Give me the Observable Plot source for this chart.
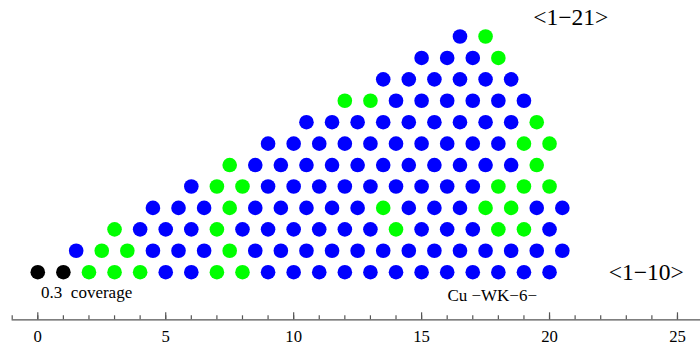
<!DOCTYPE html>
<html>
<head>
<meta charset="utf-8">
<script src="https://cdn.jsdelivr.net/npm/d3@7"></script>
<script src="https://cdn.jsdelivr.net/npm/@observablehq/plot@0.6"></script>
<style>
  html, body { margin: 0; padding: 0; background: #fff; }
</style>
</head>
<body>
<div id="chart"></div>
<script>
// Lattice rows (row index = y), explicit x positions of each dot
const rowY = [0, 1, 2, 3, 4, 5, 6, 7, 8, 9, 10, 11];
const rowX = [
  [0, 1, 2, 3, 4, 5, 6, 7, 8, 9, 10, 11, 12, 13, 14, 15, 16, 17, 18, 19, 20],
  [1.5, 2.5, 3.5, 4.5, 5.5, 6.5, 7.5, 8.5, 9.5, 10.5, 11.5, 12.5, 13.5, 14.5, 15.5, 16.5, 17.5, 18.5, 19.5, 20.5],
  [3, 4, 5, 6, 7, 8, 9, 10, 11, 12, 13, 14, 15, 16, 17, 18, 19, 20],
  [4.5, 5.5, 6.5, 7.5, 8.5, 9.5, 10.5, 11.5, 12.5, 13.5, 14.5, 15.5, 16.5, 17.5, 18.5, 19.5, 20.5],
  [6, 7, 8, 9, 10, 11, 12, 13, 14, 15, 16, 17, 18, 19, 20],
  [7.5, 8.5, 9.5, 10.5, 11.5, 12.5, 13.5, 14.5, 15.5, 16.5, 17.5, 18.5, 19.5],
  [9, 10, 11, 12, 13, 14, 15, 16, 17, 18, 19, 20],
  [10.5, 11.5, 12.5, 13.5, 14.5, 15.5, 16.5, 17.5, 18.5, 19.5],
  [12, 13, 14, 15, 16, 17, 18, 19],
  [13.5, 14.5, 15.5, 16.5, 17.5, 18.5],
  [15, 16, 17, 18],
  [16.5, 17.5]
];
// K = black, G = green, B = blue (one code per dot)
const rowKind = [
  "KKGGGBBGGBBBBBBBBBBBB",
  "BGGBBBGBBBBBBBBBBBBB",
  "GBBBGBBBBBBGBBBGGB",
  "BBBGBBBBBGBBBGGBB",
  "BGGBBBBBBBBBGGG",
  "GBBBBBBBBBBBG",
  "BBBBBBBBBBGG",
  "BBBBBBBBBG",
  "GGBBBBBB",
  "BBBBBB",
  "BBBG",
  "BG"
];
const kindColor = {K: "#000000", G: "#00ff00", B: "#0000ff"};

const majorTicks = [0, 5, 10, 15, 20, 25];
const minorTicks = [-1, 0, 1, 2, 3, 4, 5, 6, 7, 8, 9, 10, 11, 12, 13, 14, 15, 16, 17, 18, 19, 20, 21, 22, 23, 24, 25];

const bigLabelText = ["<1\u221221>", "<1\u221210>"];
const bigLabelX = [20.83, 23.78];
const bigLabelY = [11.91, 0];

const smallLabelText = ["0.3\u2002coverage", "Cu \u2212WK\u22126\u2212"];
const smallLabelX = [1.91, 17.76];
const smallLabelY = [-0.96, -1.10];

const points = rowX.flatMap((xs, i) => xs.map((x, j) => ({x, y: rowY[i], kind: rowKind[i][j]})));
const bigLabels = bigLabelText.map((t, i) => ({t, x: bigLabelX[i], y: bigLabelY[i]}));
const smallLabels = smallLabelText.map((t, i) => ({t, x: smallLabelX[i], y: smallLabelY[i]}));

const axisColor = "#555";
const chart = Plot.plot({
  width: 700,
  height: 349,
  marginLeft: 11.7,
  marginRight: 0,
  marginTop: 0,
  marginBottom: 29.7,
  style: {fontFamily: "'Liberation Serif', 'Times New Roman', serif", background: "#fff", color: "#000"},
  x: {domain: [-1, 25.9], axis: null, label: null},
  y: {domain: [0, 11], range: [271.7, 36], axis: null, label: null},
  marks: [
    Plot.frame({anchor: "bottom", stroke: axisColor, strokeWidth: 1.2}),
    Plot.axisX(minorTicks, {tickSize: -4, fill: "none", stroke: axisColor, strokeWidth: 1.2, label: null}),
    Plot.axisX(majorTicks, {tickSize: -7, fill: "none", stroke: axisColor, strokeWidth: 1.2, label: null}),
    Plot.axisX(majorTicks, {tickSize: 0, tickPadding: 10.5, fontSize: 16.7, fill: "#000", label: null}),
    Plot.dot(points, {x: "x", y: "y", r: 7.3, fill: d => kindColor[d.kind], stroke: null}),
    Plot.text(bigLabels, {x: "x", y: "y", text: "t", fontSize: 23.5, fill: "#000"}),
    Plot.text(smallLabels, {x: "x", y: "y", text: "t", fontSize: 17, fill: "#000"})
  ]
});
document.getElementById("chart").appendChild(chart);
</script>
</body>
</html>
